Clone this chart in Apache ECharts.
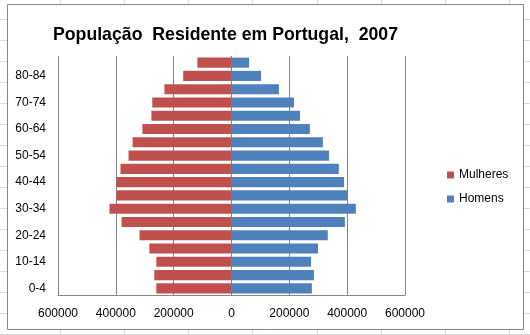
<!DOCTYPE html>
<html>
<head>
<meta charset="utf-8">
<script src="https://cdn.jsdelivr.net/npm/echarts@6/dist/echarts.min.js"></script>
<style>
  html, body { margin: 0; padding: 0; background: #fff; }
  #chart { width: 530px; height: 335px; }
</style>
</head>
<body>
<div id="chart"></div>
<script>
// Age groups, youngest first (drawn bottom to top)
const ageGroups = ['0-4', '5-9', '10-14', '15-19', '20-24', '25-29', '30-34', '35-39',
  '40-44', '45-49', '50-54', '55-59', '60-64', '65-69', '70-74', '75-79', '80-84', '85+'];

// Resident population by sex, 2007
const mulheres = [260000, 267000, 260000, 284000, 318000, 380000, 422000, 398000,
  398000, 384000, 356000, 342000, 308000, 277000, 274000, 232000, 167000, 118000];
const homens = [278000, 285000, 275000, 299000, 333000, 392000, 430000, 402000,
  389000, 371000, 337000, 316000, 271000, 237000, 216000, 164000, 102000, 61000];

const xTicks = [-600000, -400000, -200000, 0, 200000, 400000, 600000];

const FONT = '"Liberation Sans", Arial, sans-serif';
const W = 530, H = 335;

// Worksheet cell lines behind the chart object
const sheetLines = [];
const colX = [60, 124, 188, 252, 317, 381, 445, 509];
colX.forEach(x => sheetLines.push({
  type: 'line', silent: true, z: -10,
  shape: { x1: x + 0.5, y1: 0, x2: x + 0.5, y2: H },
  style: { stroke: '#dadada', lineWidth: 1 }
}));
for (let y = 19; y < H; y += 21) {
  sheetLines.push({
    type: 'line', silent: true, z: -10,
    shape: { x1: 0, y1: y + 0.5, x2: W, y2: y + 0.5 },
    style: { stroke: '#dadada', lineWidth: 1 }
  });
}

const chart = echarts.init(document.getElementById('chart'), null, { renderer: 'canvas' });

chart.setOption({
  backgroundColor: '#ffffff',
  animation: false,
  graphic: sheetLines.concat([{
    type: 'rect', silent: true, z: -5,
    shape: { x: 7.5, y: 4.5, width: 516, height: 325 },
    style: { fill: '#ffffff', stroke: '#868686', lineWidth: 1 }
  }]),
  title: {
    text: 'População  Residente em Portugal,  2007',
    left: 48, top: 21,
    textStyle: { fontFamily: FONT, fontSize: 17.7, fontWeight: 'bold', color: '#000' }
  },
  legend: {
    orient: 'vertical',
    left: 442, top: 164,
    itemWidth: 7, itemHeight: 7, itemGap: 12,
    icon: 'rect',
    textStyle: { fontFamily: FONT, fontSize: 12, color: '#000' },
    data: ['Mulheres', 'Homens']
  },
  grid: { left: 58, right: 125, top: 56, bottom: 40, containLabel: false },
  xAxis: {
    type: 'value',
    min: xTicks[0], max: xTicks[xTicks.length - 1], interval: 200000,
    axisLine: { show: true, onZero: false, lineStyle: { color: '#868686', width: 1 } },
    axisTick: { show: false },
    splitLine: { show: true, lineStyle: { color: '#868686', width: 1 } },
    axisLabel: {
      margin: 13, color: '#000', fontFamily: FONT, fontSize: 12,
      formatter: v => String(Math.abs(v))
    }
  },
  yAxis: {
    type: 'category',
    data: ageGroups,
    axisLine: { show: false },
    axisTick: { show: false },
    splitLine: { show: false },
    axisLabel: { interval: 1, margin: 12, color: '#000', fontFamily: FONT, fontSize: 12 }
  },
  series: [
    {
      name: 'Mulheres', type: 'bar',
      data: mulheres.map(v => -v),
      itemStyle: { color: '#C0504D' },
      barCategoryGap: '24%', barGap: '-100%'
    },
    {
      name: 'Homens', type: 'bar',
      data: homens,
      itemStyle: { color: '#4F81BD' },
      barCategoryGap: '24%', barGap: '-100%'
    }
  ]
});
</script>
</body>
</html>
